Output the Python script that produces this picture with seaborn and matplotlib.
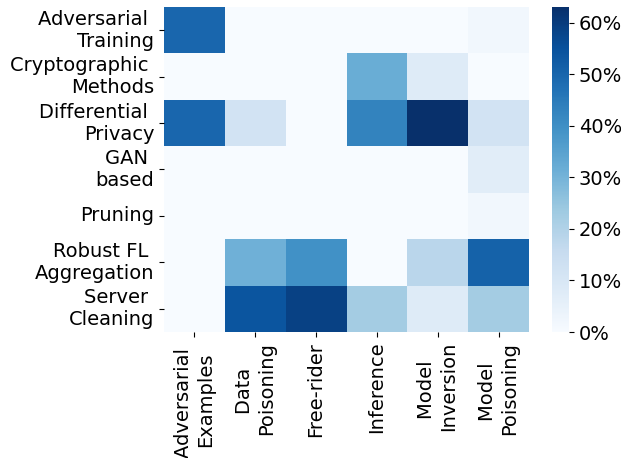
import matplotlib
matplotlib.use("Agg")
import matplotlib.pyplot as plt
import pandas as pd
import seaborn as sns

defenses = ["Adversarial \nTraining", "Cryptographic \nMethods", "Differential \nPrivacy",
            "GAN \nbased", "Pruning", "Robust FL \nAggregation", "Server \nCleaning"]
attacks = ["Adversarial \nExamples", "Data \nPoisoning", "Free-rider", "Inference",
           "Model \nInversion", "Model \nPoisoning"]

# share of papers (%) per defense / attack
adversarial_training = [50, 0, 0, 0, 0, 2]
cryptographic = [0, 0, 0, 32, 8, 0]
differential_privacy = [50, 12, 0, 43, 63, 12]
gan_based = [0, 0, 0, 0, 0, 7]
pruning = [0, 0, 0, 0, 0, 2]
robust_aggregation = [0, 31, 39.5, 0, 18, 51]
server_cleaning = [0, 54, 59, 22.5, 8, 22.5]

df = pd.DataFrame([adversarial_training, cryptographic, differential_privacy, gan_based,
                   pruning, robust_aggregation, server_cleaning],
                  index=defenses, columns=attacks)

fig = plt.figure(figsize=(6.21, 4.58), dpi=100)
ax = fig.add_axes([164 / 621, 1 - 332 / 458, 365 / 621, 325 / 458])
cax = fig.add_axes([552 / 621, 1 - 332 / 458, 17 / 621, 325 / 458])

sns.heatmap(df, cmap="Blues", vmin=0, vmax=63.1, ax=ax, cbar_ax=cax,
            cbar_kws={"format": "%.0f%%", "ticks": [0, 10, 20, 30, 40, 50, 60]})

ax.tick_params(labelsize=14)
cax.tick_params(labelsize=14)
plt.setp(ax.get_yticklabels(), rotation=0, ha="right")
plt.setp(ax.get_xticklabels(), rotation=90, ha="center")

fig.savefig("out.png", dpi=100)
